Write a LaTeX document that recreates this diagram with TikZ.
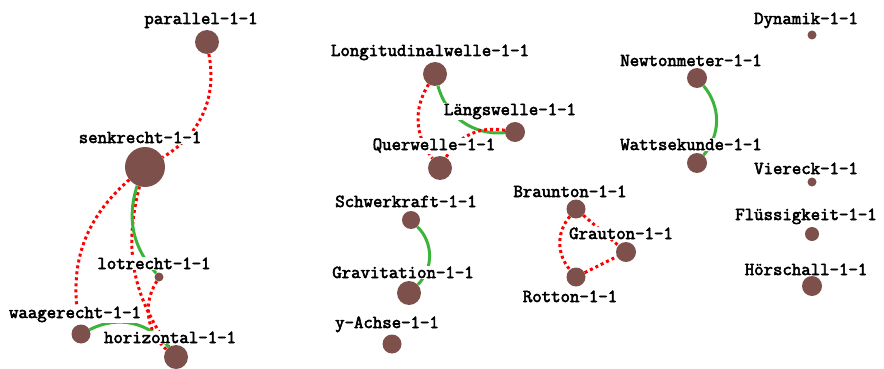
\documentclass[tikz,border=0pt]{standalone}
\usepackage{fontspec}
\setmonofont{Latin Modern Mono}[FakeBold=3]
\definecolor{dotbrown}{RGB}{125,80,75}
\definecolor{linkgreen}{RGB}{60,180,60}
\tikzset{
  vertex/.style={circle, fill=dotbrown, inner sep=0pt, minimum size=#1},
  word/.style={anchor=base, fill=white, inner sep=1pt, font=\ttfamily\fontsize{18.3}{20}\selectfont},
  same/.style={draw=linkgreen, line width=3pt},
  differ/.style={draw=red, line width=3pt, dash pattern=on 3pt off 3pt},
}
\begin{document}
\begin{tikzpicture}[x=1pt, y=-1pt]
\useasboundingbox (0,0) rectangle (884,369);
% terms
\node[vertex=24] (parallel) at (207,42) {};
\node[vertex=40] (senkrecht) at (145,167) {};
\node[vertex=9] (lotrecht) at (159,277) {};
\node[vertex=19] (waagerecht) at (81,334) {};
\node[vertex=24] (horizontal) at (176,357) {};
\node[vertex=24] (longitudinal) at (435,74) {};
\node[vertex=20] (laengs) at (515,132) {};
\node[vertex=24] (quer) at (440,168) {};
\node[vertex=18] (schwerkraft) at (411,220) {};
\node[vertex=24] (gravitation) at (409,293) {};
\node[vertex=19] (yachse) at (392,344) {};
\node[vertex=19] (braunton) at (576,209) {};
\node[vertex=20] (grauton) at (626,252) {};
\node[vertex=19] (rotton) at (576,277) {};
\node[vertex=20] (newtonmeter) at (697,78) {};
\node[vertex=20] (wattsekunde) at (697,163) {};
\node[vertex=9] (dynamik) at (812,35) {};
\node[vertex=9] (viereck) at (812,182) {};
\node[vertex=14] (fluessig) at (812,234) {};
\node[vertex=20] (hoerschall) at (812,286) {};
% links: green = synonym, red = not
\draw[differ] (parallel) to[bend left=35] (senkrecht);
\draw[differ] (senkrecht) to[bend right=30] (waagerecht);
\draw[differ] (senkrecht) to[bend right=25] (horizontal);
\draw[same] (senkrecht) to[bend right=30] (lotrecht);
\draw[differ] (lotrecht) to[bend right=40] (horizontal);
\draw[same] (waagerecht) to[bend left=40] (horizontal);
\draw[same] (longitudinal) to[bend right=40] (laengs);
\draw[differ] (longitudinal) to[bend right=35] (quer);
\draw[differ] (laengs) to[bend right=35] (quer);
\draw[same] (schwerkraft) to[bend left=45] (gravitation);
\draw[differ] (braunton) to[bend right=40] (rotton);
\draw[differ] (braunton) -- (grauton);
\draw[differ] (rotton) -- (grauton);
\draw[same] (newtonmeter) to[bend left=40] (wattsekunde);
% names
\node[word] (lparallel) at (201,24) {parallel-1-1};
\node[word] (lsenkrecht) at (140,143) {senkrecht-1-1};
\node[word] (llotrecht) at (154,269) {lotrecht-1-1};
\node[word] (lwaagerecht) at (75,318) {waagerecht-1-1};
\node[word] (lhorizontal) at (170,343) {horizontal-1-1};
\node[word] (llongitudinal) at (430,56) {Longitudinalwelle-1-1};
\node[word] (llaengs) at (510,115) {Längswelle-1-1};
\node[word] (lquer) at (434,150) {Querwelle-1-1};
\node[word] (lschwerkraft) at (406,207) {Schwerkraft-1-1};
\node[word] (lgravitation) at (403,278) {Gravitation-1-1};
\node[word] (lyachse) at (387,328) {y-Achse-1-1};
\node[word] (lbraunton) at (570,197) {Braunton-1-1};
\node[word] (lgrauton) at (621,239) {Grauton-1-1};
\node[word] (lrotton) at (570,302) {Rotton-1-1};
\node[word] (lnewtonmeter) at (691,66) {Newtonmeter-1-1};
\node[word] (lwattsekunde) at (691,150) {Wattsekunde-1-1};
\node[word] (ldynamik) at (806,24) {Dynamik-1-1};
\node[word] (lviereck) at (806,174) {Viereck-1-1};
\node[word] (lfluessig) at (806,220) {Flüssigkeit-1-1};
\node[word] (lhoerschall) at (806,275) {Hörschall-1-1};
\end{tikzpicture}
\end{document}
